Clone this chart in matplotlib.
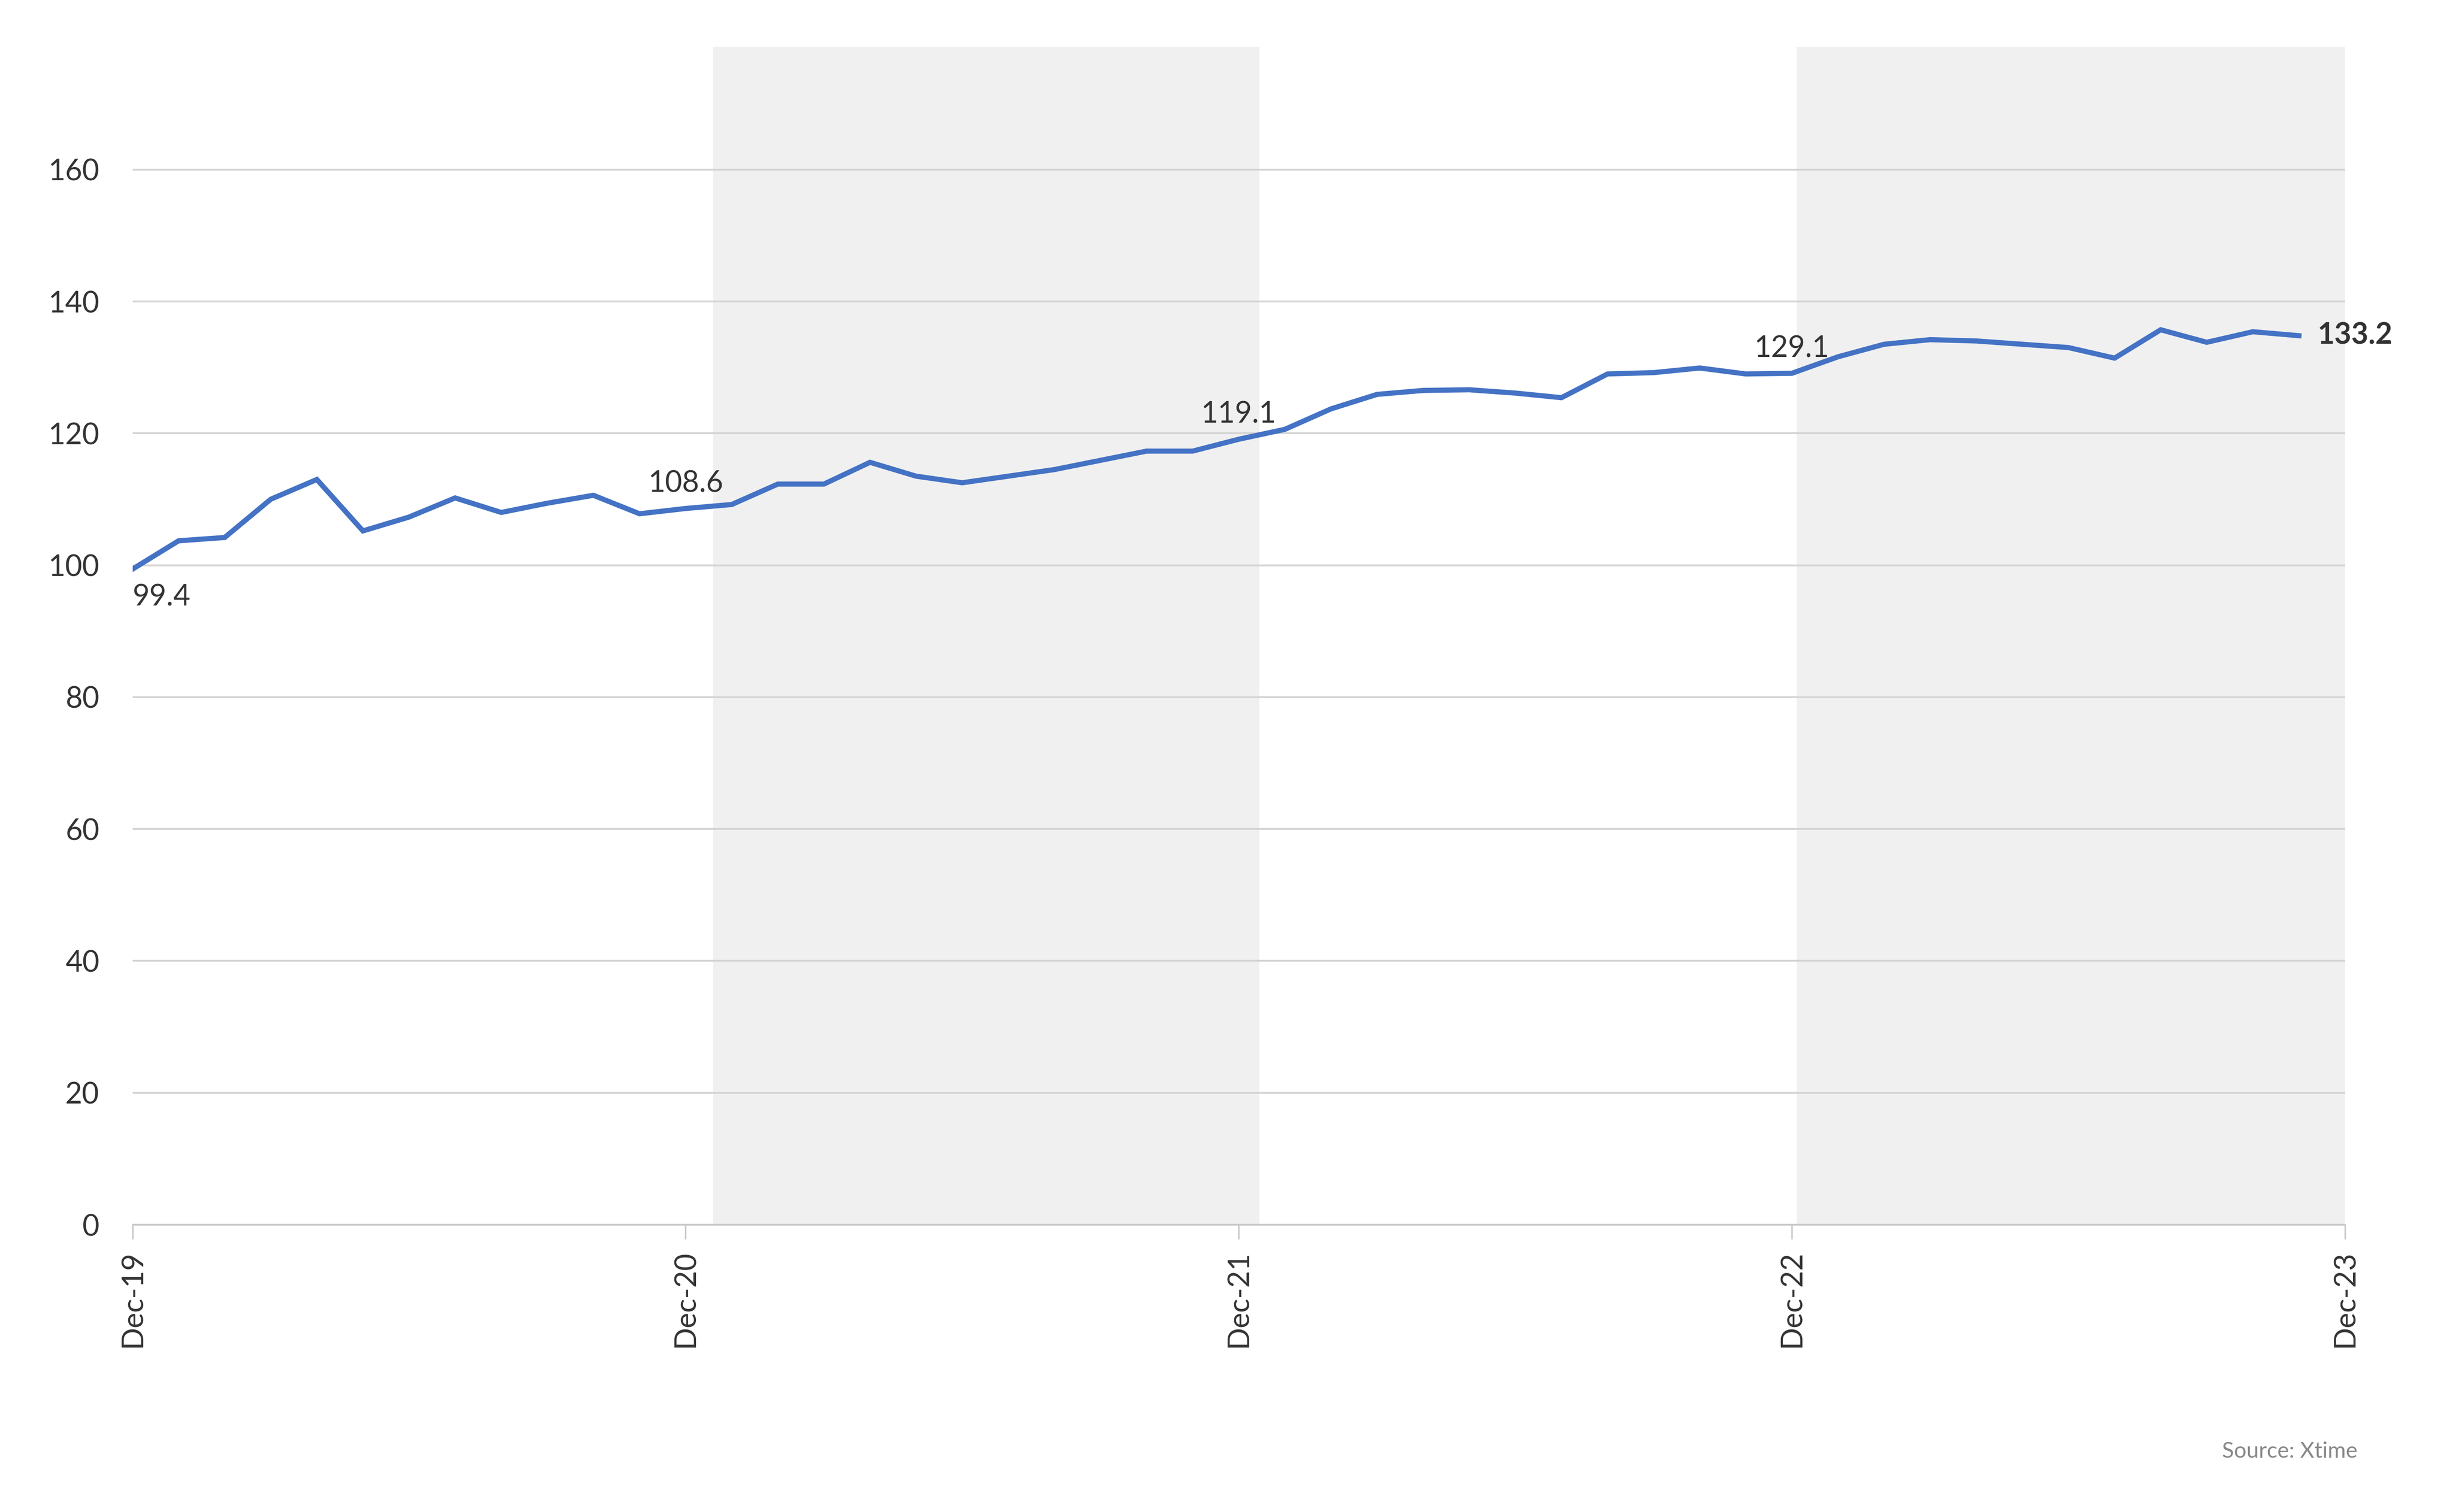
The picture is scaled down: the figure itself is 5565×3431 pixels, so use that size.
import matplotlib.pyplot as plt
import numpy as np

plt.rcParams['font.family'] = ['Lato', 'DejaVu Sans']

# monthly index, Dec-19 .. Nov-23
values = [99.4, 103.7, 104.2, 110.0, 113.0, 105.2, 107.3, 110.2, 108.0, 109.4, 110.6, 107.8,
          108.6, 109.2, 112.3, 112.3, 115.6, 113.5, 112.5, 113.5, 114.5, 115.9, 117.3, 117.3,
          119.1, 120.6, 123.7, 125.9, 126.5, 126.6, 126.1, 125.4, 129.0, 129.2, 129.9, 129.0,
          129.1, 131.6, 133.5, 134.2, 134.0, 133.5, 133.0, 131.4, 135.7, 133.8, 135.4, 134.8]
tick_labels = ["Dec-19", "Dec-20", "Dec-21", "Dec-22", "Dec-23"]
tick_pos = [0, 12, 24, 36, 48]
shade_spans = [(12.6, 24.45), (36.1, 48.0)]
annotations = [(0, "99.4"), (12, "108.6"), (24, "119.1"), (36, "129.1")]
last_label = "133.2"

text_col = "#333333"
fig = plt.figure(figsize=(18.55, 11.437), dpi=300)
ax = fig.add_axes([0.054, 0.19, 0.902, 0.779])

x = np.arange(len(values))
for a, b in shade_spans:
    ax.axvspan(a, b, color="#f0f0f0", lw=0, zorder=0)
ax.plot(x, values, color="#4472C4", lw=2.8, zorder=3, solid_joinstyle="miter")

ax.set_xlim(0, 48)
ax.set_ylim(0, 178.6)
ax.set_yticks(range(0, 161, 20))
ax.yaxis.grid(True, color="#d4d4d4", lw=1.0, zorder=1)
ax.set_axisbelow(True)
for s in ["top", "right", "left"]:
    ax.spines[s].set_visible(False)
ax.spines["bottom"].set_color("#c8c8c8")
ax.tick_params(axis="y", length=0, labelsize=16, colors=text_col, pad=18)
ax.set_xticks(tick_pos)
ax.set_xticklabels(tick_labels, rotation=90, fontsize=16, color=text_col)
ax.tick_params(axis="x", length=8, color="#c8c8c8", pad=6)

for i, t in annotations:
    if i == 0:
        ax.annotate(t, (i, values[i]), xytext=(0, -8), textcoords="offset points",
                    ha="left", va="top", fontsize=16, color=text_col)
    else:
        ax.annotate(t, (i, values[i]), xytext=(0, 6), textcoords="offset points",
                    ha="center", va="bottom", fontsize=16, color=text_col)
ax.annotate(last_label, (47, values[47]), xytext=(10, 0), textcoords="offset points",
            ha="left", va="center", fontsize=16, fontweight="bold", color=text_col,
            annotation_clip=False)

fig.text(0.961, 0.04, "Source: Xtime", ha="right", va="center", fontsize=12, color="#888888")

fig.savefig("out.png", dpi=300)
